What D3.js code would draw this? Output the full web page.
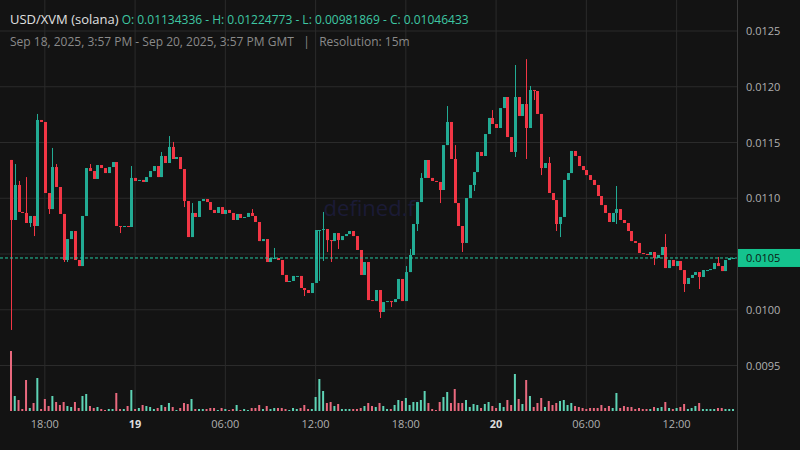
<!DOCTYPE html>
<html><head><meta charset="utf-8">
<script src="https://cdn.jsdelivr.net/npm/d3@7"></script>
<style>body{margin:0;background:#131313}svg{display:block}</style>
</head><body><svg id="c" width="800" height="450"></svg>
<script>
const startTime = new Date(Date.UTC(2025, 8, 18, 15, 45));
const stepMinutes = 15;
const firstOpen = 0.01134336;
const closes = [
0.010805,0.011119,0.010877,0.010868,0.010778,0.010841,0.010751,0.011702,0.011684,0.011047,
0.010903,0.011280,0.011101,0.010859,0.010446,0.010634,0.010706,0.010446,0.010392,0.010841,
0.011271,0.011244,0.011173,0.011298,0.011271,0.011226,0.011280,0.011325,0.010751,0.010742,
0.010751,0.010742,0.011182,0.011155,0.011164,0.011146,0.011190,0.011244,0.011289,0.011190,
0.011379,0.011316,0.011460,0.011352,0.011370,0.011262,0.010975,0.010652,0.010868,0.010832,
0.010975,0.010993,0.010966,0.010895,0.010868,0.010921,0.010859,0.010895,0.010868,0.010805,
0.010859,0.010823,0.010832,0.010868,0.010841,0.010787,0.010616,0.010634,0.010428,0.010464,
0.010464,0.010446,0.010312,0.010249,0.010258,0.010303,0.010303,0.010195,0.010177,0.010150,
0.010240,0.010715,0.010715,0.010724,0.010625,0.010616,0.010688,0.010625,0.010661,0.010679,
0.010706,0.010661,0.010536,0.010312,0.010428,0.010087,0.010078,0.010177,0.009980,0.010069,
0.010078,0.010069,0.010096,0.010276,0.010078,0.010338,0.010491,0.010769,0.010966,0.011182,
0.011343,0.011182,0.011155,0.011146,0.011074,0.011477,0.011684,0.011352,0.010957,0.010751,
0.010599,0.011002,0.011119,0.011235,0.011415,0.011379,0.011576,0.011720,0.011666,0.011630,
0.011809,0.011908,0.011549,0.011415,0.011908,0.011738,0.011845,0.011630,0.011971,0.011962,
0.011756,0.011271,0.011316,0.011047,0.010984,0.010769,0.010832,0.011164,0.011226,0.011424,
0.011379,0.011289,0.011253,0.011208,0.011164,0.011119,0.011020,0.010939,0.010868,0.010787,
0.010868,0.010903,0.010805,0.010778,0.010706,0.010616,0.010599,0.010509,0.010500,0.010491,
0.010518,0.010464,0.010491,0.010563,0.010374,0.010446,0.010392,0.010437,0.010356,0.010231,
0.010285,0.010312,0.010338,0.010294,0.010356,0.010356,0.010365,0.010419,0.010392,0.010347,
0.010446,0.010464,0.01046433];
// notable wick extremes (index: price)
const wickHighs = {1:0.011307,2:0.011155,4:0.011190,7:0.011756,11:0.011451,12:0.011307,21:0.011307,
 32:0.011289,40:0.011415,42:0.011558,43:0.011505,48:0.010957,64:0.010903,70:0.010554,83:0.010877,
 105:0.010392,106:0.010545,109:0.011226,116:0.011827,118:0.011477,128:0.011791,134:0.012195,
 137:0.01224773,138:0.012007,143:0.011370,161:0.011110,174:0.010679,188:0.010473};
const wickLows = {0:0.00981869,5:0.010742,6:0.010661,10:0.010859,14:0.010428,15:0.010428,29:0.010688,
 46:0.010921,78:0.010123,81:0.010258,82:0.010258,83:0.010437,84:0.010518,85:0.010428,87:0.010545,
 98:0.009926,101:0.010024,108:0.010706,114:0.010957,120:0.010518,123:0.011065,134:0.011370,
 137:0.011352,139:0.011881,141:0.011208,145:0.010706,146:0.010652,161:0.010769,171:0.010401,
 179:0.010159,183:0.010186};
const volumes = [
180,45,33,6,93,9,24,99,6,36,15,45,27,18,27,15,12,27,9,45,51,15,9,12,6,3,6,6,54,6,
6,15,63,6,9,18,15,12,6,9,18,12,24,12,3,9,24,21,36,6,6,6,6,9,9,3,9,6,3,6,
18,3,6,3,9,9,18,6,15,6,9,9,9,6,3,9,6,9,18,6,6,42,96,60,24,27,15,21,6,6,
6,6,6,9,15,24,15,12,24,15,6,6,18,33,30,39,18,27,27,33,60,24,6,3,27,42,57,24,66,24,
24,33,12,21,18,9,21,27,15,9,24,12,33,18,111,36,21,93,45,12,24,39,12,30,18,24,30,33,18,24,
15,12,9,6,9,9,9,18,9,15,9,54,9,15,12,12,6,9,6,6,6,12,9,12,27,9,6,9,12,21,
6,9,15,24,6,6,6,6,9,9,6,6,6];
const priceTicks = [0.0095,0.0100,0.0105,0.0110,0.0115,0.0120,0.0125];
const timeTicks = [
 {t:Date.UTC(2025,8,18,18), label:"18:00", bold:false},
 {t:Date.UTC(2025,8,19,0), label:"19", bold:true},
 {t:Date.UTC(2025,8,19,6), label:"06:00", bold:false},
 {t:Date.UTC(2025,8,19,12), label:"12:00", bold:false},
 {t:Date.UTC(2025,8,19,18), label:"18:00", bold:false},
 {t:Date.UTC(2025,8,20,0), label:"20", bold:true},
 {t:Date.UTC(2025,8,20,6), label:"06:00", bold:false},
 {t:Date.UTC(2025,8,20,12), label:"12:00", bold:false}];

const candles = closes.map((c,i)=>{
  const o = i===0 ? firstOpen : closes[i-1];
  const h = wickHighs[i]!==undefined ? Math.max(wickHighs[i],o,c) : Math.max(o,c);
  const l = wickLows[i]!==undefined ? Math.min(wickLows[i],o,c) : Math.min(o,c);
  return {t:new Date(startTime.getTime()+i*stepMinutes*60000), o, h, l, c, v:volumes[i]};
});

const svg = d3.select("#c");
const W=800, plotR=737;
svg.append("rect").attr("width",W).attr("height",450).attr("fill","#131313");
const x = d3.scaleTime().domain([candles[0].t, candles[candles.length-1].t]).range([11,733]);
const y = d3.scaleLinear().domain([0.0125,0.0095]).range([31,365.5]);
const yv = d3.scaleLinear().domain([0,180]).range([411,351]);
const up="#22ab94", dn="#f23645";

svg.append("g").selectAll("line").data(priceTicks).join("line")
 .attr("x1",0).attr("x2",plotR).attr("y1",d=>y(d)).attr("y2",d=>y(d)).attr("stroke","#2b2b2b");
svg.append("g").selectAll("line").data(timeTicks).join("line")
 .attr("x1",d=>x(d.t)).attr("x2",d=>x(d.t)).attr("y1",0).attr("y2",411).attr("stroke","#2b2b2b");

svg.append("text").attr("x",372).attr("y",216).attr("text-anchor","middle")
 .attr("font-family","Open Sans, sans-serif").attr("font-size",22).attr("fill","#1b1b36").text("defined.fi");

svg.append("g").selectAll("rect").data(candles).join("rect")
 .attr("x",d=>x(d.t)-1).attr("width",2).attr("y",d=>yv(d.v)).attr("height",d=>411-yv(d.v))
 .attr("fill",d=>d.c>=d.o?"#5ed3b5":"#e9697e");

const g = svg.append("g");
g.selectAll("line").data(candles).join("line")
 .attr("x1",d=>Math.round(x(d.t))+0.5).attr("x2",d=>Math.round(x(d.t))+0.5)
 .attr("y1",d=>y(d.h)).attr("y2",d=>y(d.l)).attr("stroke",d=>d.c>=d.o?up:dn);
g.selectAll("rect").data(candles).join("rect")
 .attr("x",d=>Math.round(x(d.t))-1).attr("width",3)
 .attr("y",d=>y(Math.max(d.o,d.c))).attr("height",d=>Math.max(1,Math.abs(y(d.o)-y(d.c))))
 .attr("fill",d=>d.c>=d.o?up:dn);

const last = candles[candles.length-1].c;
svg.append("line").attr("x1",0).attr("x2",plotR).attr("y1",y(last)).attr("y2",y(last))
 .attr("stroke","#22c9a0").attr("stroke-dasharray","3,2");

svg.append("rect").attr("x",plotR).attr("y",0).attr("width",W-plotR).attr("height",450).attr("fill","#131313");
svg.append("line").attr("x1",plotR+0.5).attr("x2",plotR+0.5).attr("y1",0).attr("y2",450).attr("stroke","#3a3a3a");
svg.append("g").selectAll("text").data(priceTicks.filter(d=>Math.abs(y(d)-y(last))>12)).join("text")
 .attr("x",746).attr("y",d=>y(d)+4).attr("font-family","Open Sans, sans-serif").attr("font-size",11)
 .attr("fill","#b0b0b0").text(d=>d.toFixed(4));
svg.append("rect").attr("x",plotR+1).attr("y",y(last)-9).attr("width",62).attr("height",18).attr("fill","#14c38e");
svg.append("text").attr("x",746).attr("y",y(last)+4).attr("font-family","Open Sans, sans-serif")
 .attr("font-size",11).attr("fill","#0b1a14").text(d3.format(".4f")(last));

svg.append("g").selectAll("text").data(timeTicks).join("text")
 .attr("x",d=>x(d.t)).attr("y",428).attr("text-anchor","middle")
 .attr("font-family","Open Sans, sans-serif").attr("font-size",11)
 .attr("font-weight",d=>d.bold?"bold":"normal").attr("fill",d=>d.bold?"#dddddd":"#b0b0b0").text(d=>d.label);

const h1 = svg.append("text").attr("x",10).attr("y",24).attr("font-family","Open Sans, sans-serif").attr("font-size",13);
h1.append("tspan").attr("fill","#e0e0e0").text("USD/XVM (solana)");
h1.append("tspan").attr("fill","#3ec7a3").attr("font-size",12).text("  O: 0.01134336 - H: 0.01224773 - L: 0.00981869 - C: 0.01046433");
svg.append("text").attr("x",10).attr("y",46).attr("font-family","Open Sans, sans-serif").attr("font-size",12)
 .attr("fill","#8a8a8a").attr("xml:space","preserve")
 .text("Sep 18, 2025, 3:57 PM - Sep 20, 2025, 3:57 PM GMT   |   Resolution: 15m");
</script></body></html>
